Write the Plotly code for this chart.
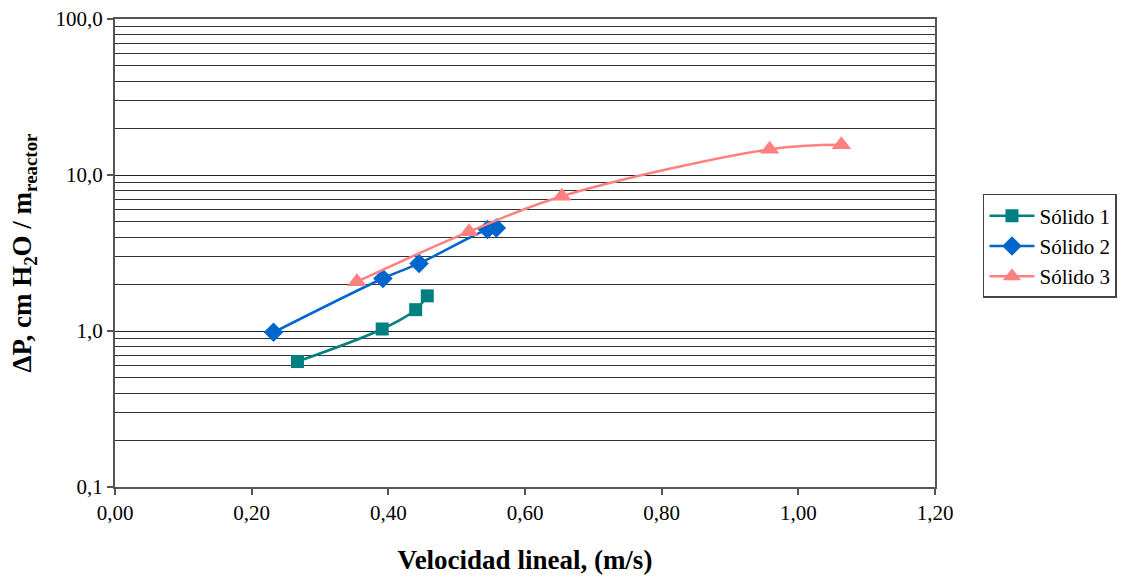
import plotly.graph_objects as go

# Data
s1_x = [0.267, 0.391, 0.440, 0.457]
s1_y = [0.637, 1.03, 1.37, 1.68]

s2_x = [0.232, 0.392, 0.445, 0.545, 0.558]
s2_y = [0.98, 2.17, 2.71, 4.47, 4.58]

s3_x = [0.354, 0.518, 0.654, 0.958, 1.063]
s3_y = [2.07, 4.33, 7.31, 14.6, 15.6]

series_names = ["Sólido 1", "Sólido 2", "Sólido 3"]

x_ticks = [0.0, 0.2, 0.4, 0.6, 0.8, 1.0, 1.2]
x_ticktext = ["0,00", "0,20", "0,40", "0,60", "0,80", "1,00", "1,20"]
y_ticks = [0.1, 1, 10, 100]
y_ticktext = ["0,1", "1,0", "10,0", "100,0"]
y_minor = [m * 10 ** e for e in (-1, 0, 1) for m in range(2, 10)] + [1, 10]

FONT = "Liberation Serif, Times New Roman, serif"

fig = go.Figure()
fig.add_trace(go.Scatter(
    x=s1_x, y=s1_y, name=series_names[0], mode="lines+markers",
    line=dict(color="#008080", width=2.5, shape="spline", smoothing=1),
    marker=dict(symbol="square", size=13, color="#008080"),
))
fig.add_trace(go.Scatter(
    x=s2_x, y=s2_y, name=series_names[1], mode="lines+markers",
    line=dict(color="#0066CC", width=2.5, shape="spline", smoothing=1),
    marker=dict(symbol="diamond", size=15, color="#0066CC"),
))
fig.add_trace(go.Scatter(
    x=s3_x, y=s3_y, name=series_names[2], mode="lines+markers",
    line=dict(color="#FF8080", width=2.5, shape="spline", smoothing=1),
    marker=dict(symbol="triangle-up", size=17, color="#FF8080"),
))

fig.update_layout(
    width=1129, height=579,
    margin=dict(l=115, r=194, t=19, b=92, autoexpand=False),
    paper_bgcolor="white", plot_bgcolor="white",
    font=dict(family=FONT, color="black", size=21),
    legend=dict(
        x=1.0585, xanchor="left", y=0.515, yanchor="middle",
        bordercolor="#444", borderwidth=1.5,
        font=dict(family=FONT, size=21),
        tracegroupgap=0, itemwidth=45,
    ),
    showlegend=True,
)

fig.update_xaxes(
    range=[0, 1.2], tickvals=x_ticks, ticktext=x_ticktext,
    ticks="outside", ticklen=6, tickcolor="#555", tickwidth=1.5,
    showgrid=False, zeroline=False,
    showline=True, linecolor="#555", linewidth=2, mirror=True,
    tickfont=dict(family=FONT, size=21),
    title=dict(text="<b>Velocidad lineal, (m/s)</b>",
               font=dict(family=FONT, size=27), standoff=26),
)
fig.update_yaxes(
    type="log", range=[-1, 2], tickvals=y_ticks, ticktext=y_ticktext,
    ticks="outside", ticklen=6, tickcolor="#555", tickwidth=1.5,
    showgrid=True, gridcolor="#222", gridwidth=1,
    minor=dict(tickvals=y_minor, showgrid=True, gridcolor="#333",
               gridwidth=1, ticks=""),
    zeroline=False,
    showline=True, linecolor="#555", linewidth=2, mirror=True,
    tickfont=dict(family=FONT, size=21),
    title=dict(text="<b>ΔP, cm H<sub>2</sub>O / m<sub>reactor</sub></b>",
               font=dict(family=FONT, size=27), standoff=16),
)

fig.write_html("out.html")
